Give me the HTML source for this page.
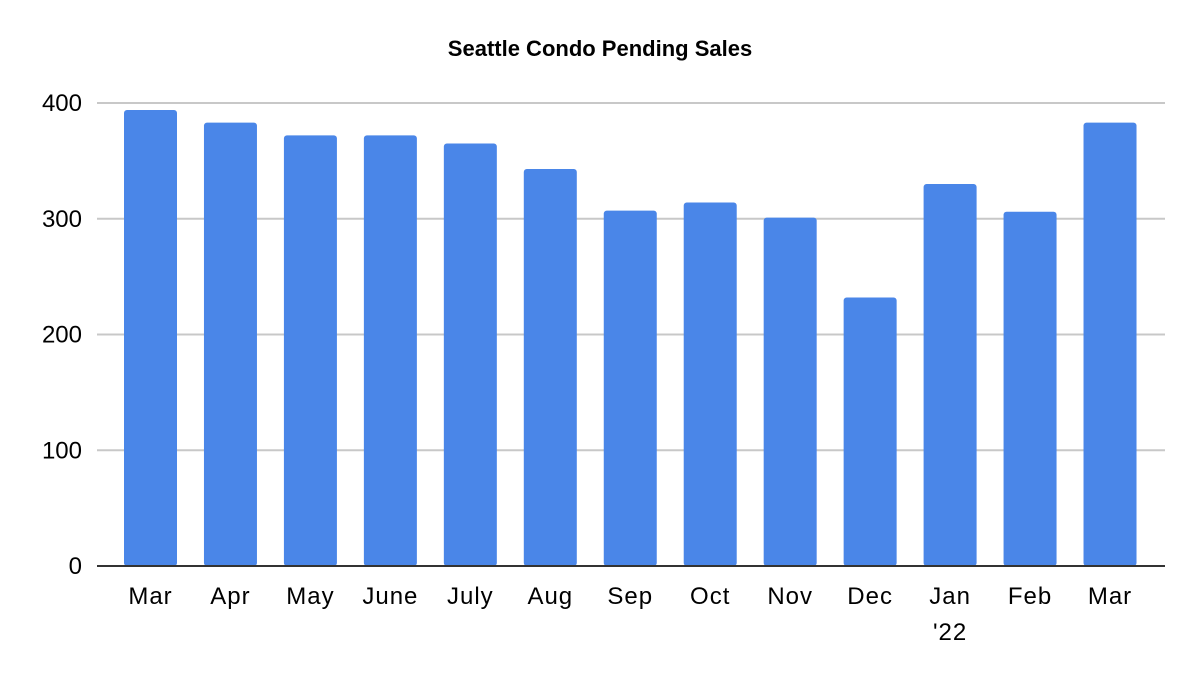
<!DOCTYPE html>
<html><head><meta charset="utf-8"><style>
body{margin:0;background:#fff}
svg text{font-family:"Liberation Sans",sans-serif}
</style></head><body>
<svg width="1200" height="685" viewBox="0 0 1200 685">
<rect width="1200" height="685" fill="#fff"/>
<text x="600" y="56" text-anchor="middle" font-size="22" font-weight="bold" fill="#000">Seattle Condo Pending Sales</text>
<g id="grid"></g><g id="bars"></g><g id="xlabels"></g><g id="ylabels"></g>
<line x1="97" y1="566" x2="1165" y2="566" stroke="#333" stroke-width="2"/>
</svg>
<script>
const categories=["Mar","Apr","May","June","July","Aug","Sep","Oct","Nov","Dec","Jan|'22","Feb","Mar"];
const values=[394,383,372,372,365,343,307,314,301,232,330,306,383];
const yTicks=[0,100,200,300,400];
const NS="http://www.w3.org/2000/svg";
const y0=566,yTop=103,yMax=400;
const y=v=>y0-(v/yMax)*(y0-yTop);
const x=i=>150.5+i*79.96;
const bw=53;
const grid=document.getElementById('grid'),bars=document.getElementById('bars'),xl=document.getElementById('xlabels'),yl=document.getElementById('ylabels');
yTicks.forEach(t=>{
 if(t>0){const l=document.createElementNS(NS,'line');
 l.setAttribute('x1',97);l.setAttribute('x2',1165);l.setAttribute('y1',y(t));l.setAttribute('y2',y(t));
 l.setAttribute('stroke','#c8c8c8');l.setAttribute('stroke-width','2');
 
 
 grid.appendChild(l);}
 const tx=document.createElementNS(NS,'text');
 tx.setAttribute('x',82);tx.setAttribute('y',y(t)+8);tx.setAttribute('text-anchor','end');tx.setAttribute('font-size','24');
 tx.textContent=t;
 
 
 yl.appendChild(tx);
});
values.forEach((v,i)=>{
 const r=document.createElementNS(NS,'rect');
 r.setAttribute('x',x(i)-bw/2);r.setAttribute('y',y(v));r.setAttribute('width',bw);r.setAttribute('height',y0-y(v));
 r.setAttribute('rx',3);r.setAttribute('fill','#4a86e8');
 
 
 bars.appendChild(r);
 categories[i].split('|').forEach((s,k)=>{
  const t=document.createElementNS(NS,'text');
  t.setAttribute('x',x(i));t.setAttribute('y',604+k*36);t.setAttribute('text-anchor','middle');t.setAttribute('font-size','24');
  t.setAttribute('letter-spacing','1');
  t.textContent=s;
  
  
  xl.appendChild(t);
 });
});
</script>
</body></html>
